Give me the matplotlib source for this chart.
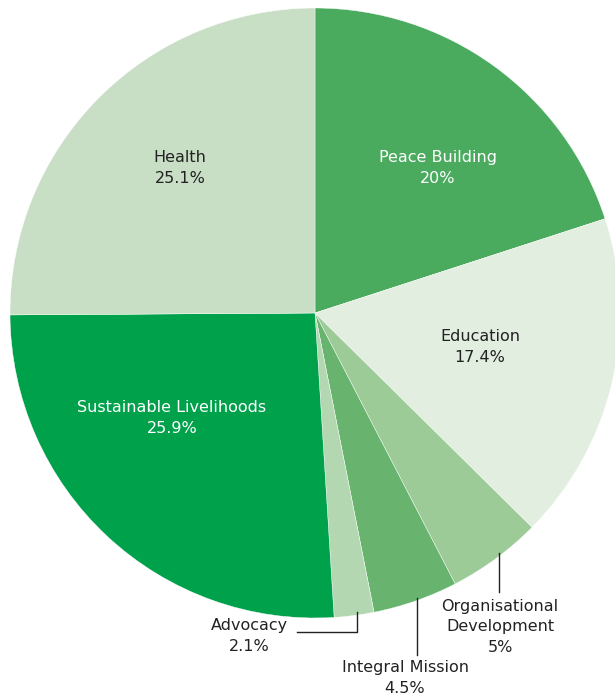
import matplotlib.pyplot as plt

categories = ['Peace Building', 'Education', 'Organisational\nDevelopment',
              'Integral Mission', 'Advocacy', 'Sustainable Livelihoods', 'Health']
shares = [20, 17.4, 5, 4.5, 2.1, 25.9, 25.1]
pct_labels = ['20%', '17.4%', '5%', '4.5%', '2.1%', '25.9%', '25.1%']
colors = ['#4aab5e', '#e2eee0', '#9ccb97', '#68b46f', '#b3d8b1', '#00a14b', '#c8dfc6']

W, H = 615, 698
fig = plt.figure(figsize=(W / 100, H / 100), dpi=100)
ax = fig.add_axes([0, 0, 1, 1])

cx, cy, r = 315, H - 313, 305
ax.pie(shares, colors=colors, startangle=90, counterclock=False,
       center=(cx, cy), radius=r, frame=True,
       wedgeprops=dict(edgecolor='white', linewidth=0.3))
ax.set_xlim(0, W)
ax.set_ylim(0, H)
ax.set_aspect('equal')
ax.axis('off')

fs = 11.5
# (x, y) in pixel coords from top, text colour
label_pos = {
    0: (438, 168, 'white'),
    1: (480, 347, '#222222'),
    2: (500, 627, '#222222'),
    3: (405, 678, '#222222'),
    4: (249, 636, '#222222'),
    5: (172, 418, 'white'),
    6: (180, 168, '#222222'),
}
for i, (x, y, c) in label_pos.items():
    ax.text(x, H - y, f'{categories[i]}\n{pct_labels[i]}', ha='center', va='center',
            fontsize=fs, color=c, linespacing=1.42)

# leader lines
lc = '#222222'
ax.plot([357, 357, 297], [H - 612, H - 632, H - 632], color=lc, lw=1)
ax.plot([417, 417], [H - 598, H - 655], color=lc, lw=1)
ax.plot([499, 499], [H - 553, H - 592], color=lc, lw=1)

fig.savefig('out.png', dpi=100)
